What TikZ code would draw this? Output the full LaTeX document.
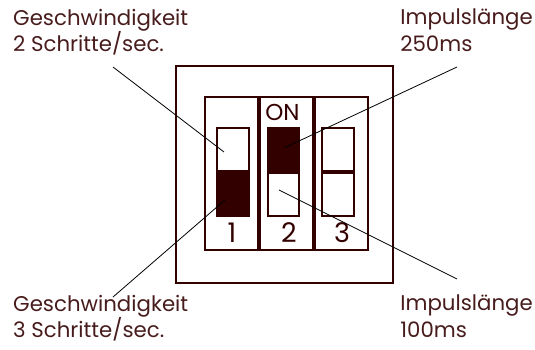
\documentclass[tikz,border=0pt]{standalone}
\usepackage{fontspec}
\setmainfont{Poppins}
\usetikzlibrary{positioning}
\definecolor{switchbrown}{RGB}{51,0,0}
\definecolor{labelbrown}{RGB}{72,28,28}

\begin{document}
\begin{tikzpicture}[x=1pt, y=-1pt, every node/.style={font=\fontsize{21.3}{26.5}\selectfont, text=labelbrown, inner sep=0pt}, every text node part/.style={align=left}]
        \useasboundingbox (0,0) rectangle (535,349);

        % Housing
        \node (Housing) [draw=switchbrown, line width=2pt, minimum width=217pt, minimum height=217pt, anchor=north west] at (175,65) {};

        % Columns
        \node (ColOne) [draw=switchbrown, line width=2pt, minimum width=53pt, minimum height=153pt, anchor=north west] at (204,96) {};
        \node (ColTwo) [draw=switchbrown, line width=2pt, minimum width=53pt, minimum height=153pt, right=0pt of ColOne] {};
        \node (ColThree) [draw=switchbrown, line width=2pt, minimum width=53pt, minimum height=153pt, right=0pt of ColTwo] {};

        % Switches
        \node (SwOneUp) [draw=switchbrown, line width=2pt, minimum width=32pt, minimum height=43pt, anchor=north west] at (216,127) {};
        \node (SwOneDown) [draw=switchbrown, fill=switchbrown, line width=2pt, minimum width=32pt, minimum height=43pt, below=0pt of SwOneUp] {};
        \node (SwTwoUp) [draw=switchbrown, fill=switchbrown, line width=2pt, minimum width=31pt, minimum height=43pt, anchor=north west] at (267,127) {};
        \node (SwTwoDown) [draw=switchbrown, line width=2pt, minimum width=31pt, minimum height=43pt, below=0pt of SwTwoUp] {};
        \node (SwThreeUp) [draw=switchbrown, line width=2pt, minimum width=32pt, minimum height=43pt, anchor=north west] at (321,127) {};
        \node (SwThreeDown) [draw=switchbrown, line width=2pt, minimum width=32pt, minimum height=43pt, below=0pt of SwThreeUp] {};

        % Marks
        \node (OnMark) [font=\fontsize{23}{23}\selectfont, text=switchbrown] at (282.5,112) {ON};
        \node (NumOne) [font=\fontsize{27}{27}\selectfont, text=switchbrown] at (232,233) {1};
        \node (NumTwo) [font=\fontsize{27}{27}\selectfont, text=switchbrown] at (289,233) {2};
        \node (NumThree) [font=\fontsize{27}{27}\selectfont, text=switchbrown] at (342,233) {3};

        % Labels
        \node (SpeedTwo) [anchor=north west] at (13,9) {Geschwindigkeit\\2 Schritte/sec.};
        \node (SpeedThree) [anchor=north west] at (13,295) {Geschwindigkeit\\3 Schritte/sec.};
        \node (PulseLong) [anchor=north east] at (533,9) {Impulslänge\\250ms};
        \node (PulseShort) [anchor=north east] at (533,295) {Impulslänge\\100ms};

        % Leaders
        \coordinate (SpeedTwoFrom) at (113,67);
        \coordinate (SpeedTwoTo) at (224,152);
        \coordinate (SpeedThreeFrom) at (113,297);
        \coordinate (SpeedThreeTo) at (225,200);
        \coordinate (PulseLongFrom) at (457,67);
        \coordinate (PulseLongTo) at (284,148);
        \coordinate (PulseShortFrom) at (457,279);
        \coordinate (PulseShortTo) at (279,190);
        \draw[line width=0.8pt] (SpeedTwoFrom) -- (SpeedTwoTo);
        \draw[line width=0.8pt] (SpeedThreeFrom) -- (SpeedThreeTo);
        \draw[line width=0.8pt] (PulseLongFrom) -- (PulseLongTo);
        \draw[line width=0.8pt] (PulseShortFrom) -- (PulseShortTo);
    \end{tikzpicture}
\end{document}
